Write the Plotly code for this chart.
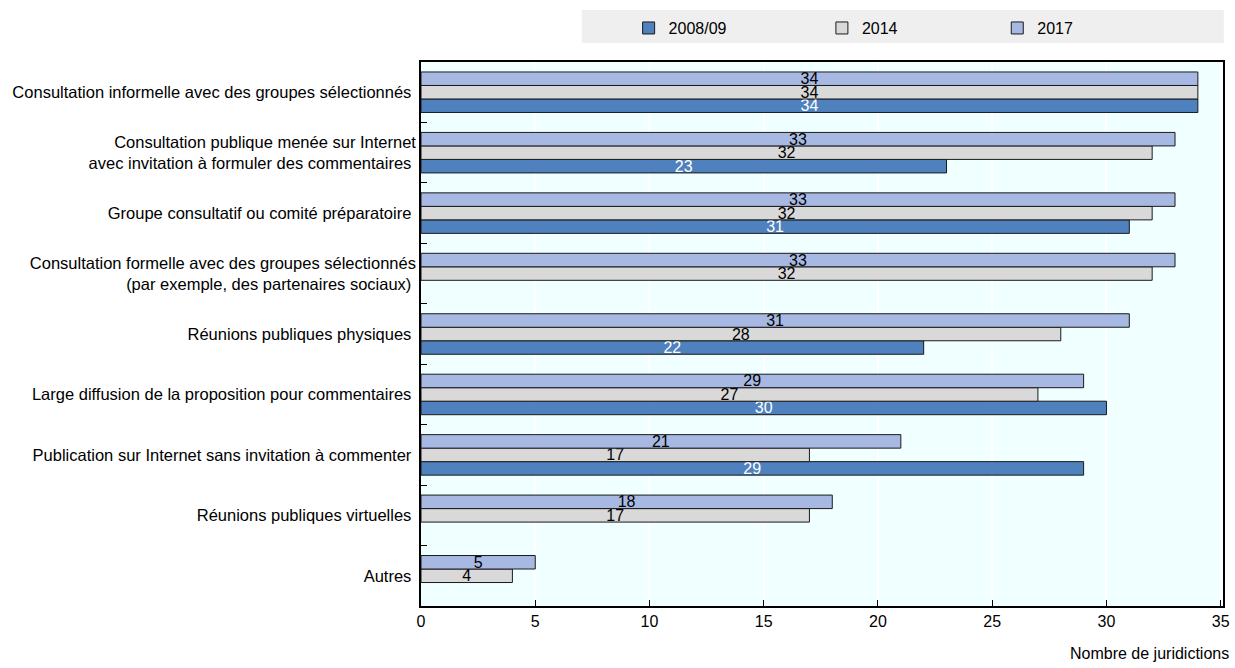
import plotly.graph_objects as go

categories = [
    "Consultation informelle avec des groupes sélectionnés",
    "Consultation publique menée sur Internet<br>avec invitation à formuler des commentaires",
    "Groupe consultatif ou comité préparatoire",
    "Consultation formelle avec des groupes sélectionnés<br>(par exemple, des partenaires sociaux)",
    "Réunions publiques physiques",
    "Large diffusion de la proposition pour commentaires",
    "Publication sur Internet sans invitation à commenter",
    "Réunions publiques virtuelles",
    "Autres",
]
series_names = ["2008/09", "2014", "2017"]
values_2008 = [34, 23, 31, None, 22, 30, 29, None, None]
values_2014 = [34, 32, 32, 32, 28, 27, 17, 17, 4]
values_2017 = [34, 33, 33, 33, 31, 29, 21, 18, 5]
x_ticks = [0, 5, 10, 15, 20, 25, 30, 35]

FONT = "Liberation Sans, Arial, sans-serif"
colors = ["#4e81bd", "#d9d9d9", "#a7b9e3"]
text_colors = ["white", "black", "black"]
legend_ids = ["legend", "legend2", "legend3"]
legend_x = [0.509, 0.6655, 0.8075]

fig = go.Figure()
for name, vals, col, tcol, lid in zip(series_names, [values_2008, values_2014, values_2017],
                                      colors, text_colors, legend_ids):
    fig.add_trace(go.Bar(
        y=categories, x=vals, name=name, orientation="h", legend=lid,
        marker=dict(color=col, line=dict(color="#1a1a1a", width=1)),
        text=[("" if v is None else str(v)) for v in vals],
        textposition="inside", insidetextanchor="middle", constraintext="none",
        textangle=0,
        textfont=dict(family=FONT, size=16, color=tcol),
        cliponaxis=False,
    ))

# legends are placed in container coordinates so they do not push the plot margins
legend_style = dict(orientation="h", xanchor="left", yanchor="middle", y=0.958,
                    xref="container", yref="container",
                    bgcolor="rgba(0,0,0,0)", font=dict(size=16))

fig.update_layout(
    width=1235, height=668,
    margin=dict(l=421, r=12, t=62, b=62, autoexpand=False),
    paper_bgcolor="white", plot_bgcolor="#f0ffff",
    barmode="group", bargap=0.33, bargroupgap=0,
    font=dict(family=FONT, size=16, color="black"),
    showlegend=True,
    legend=dict(x=legend_x[0], **legend_style),
    legend2=dict(x=legend_x[1], **legend_style),
    legend3=dict(x=legend_x[2], **legend_style),
    xaxis=dict(range=[0, 35.1], tickvals=x_ticks, showgrid=True, gridcolor="white",
               gridwidth=1.5, zeroline=False, ticks="inside", ticklen=6, tickcolor="black",
               showline=True, linecolor="black", linewidth=1.5, mirror=True,
               tickfont=dict(size=16)),
    yaxis=dict(categoryorder="array", categoryarray=categories[::-1],
               showgrid=False, ticks="inside", tickson="boundaries", ticklen=6,
               tickcolor="black", showline=True, linecolor="black", linewidth=1.5,
               mirror=True, ticksuffix=" ", tickfont=dict(size=16.5)),
    shapes=[dict(type="rect", xref="paper", yref="paper", x0=0.2005, x1=1.001,
                 y0=1.035, y1=1.0956, fillcolor="#efefef", line=dict(width=0), layer="below")],
    annotations=[dict(text="Nombre de juridictions", xref="paper", yref="paper",
                      x=1.010, y=-0.068, xanchor="right", yanchor="top", showarrow=False,
                      font=dict(size=16))],
)

fig.write_html("out.html")
